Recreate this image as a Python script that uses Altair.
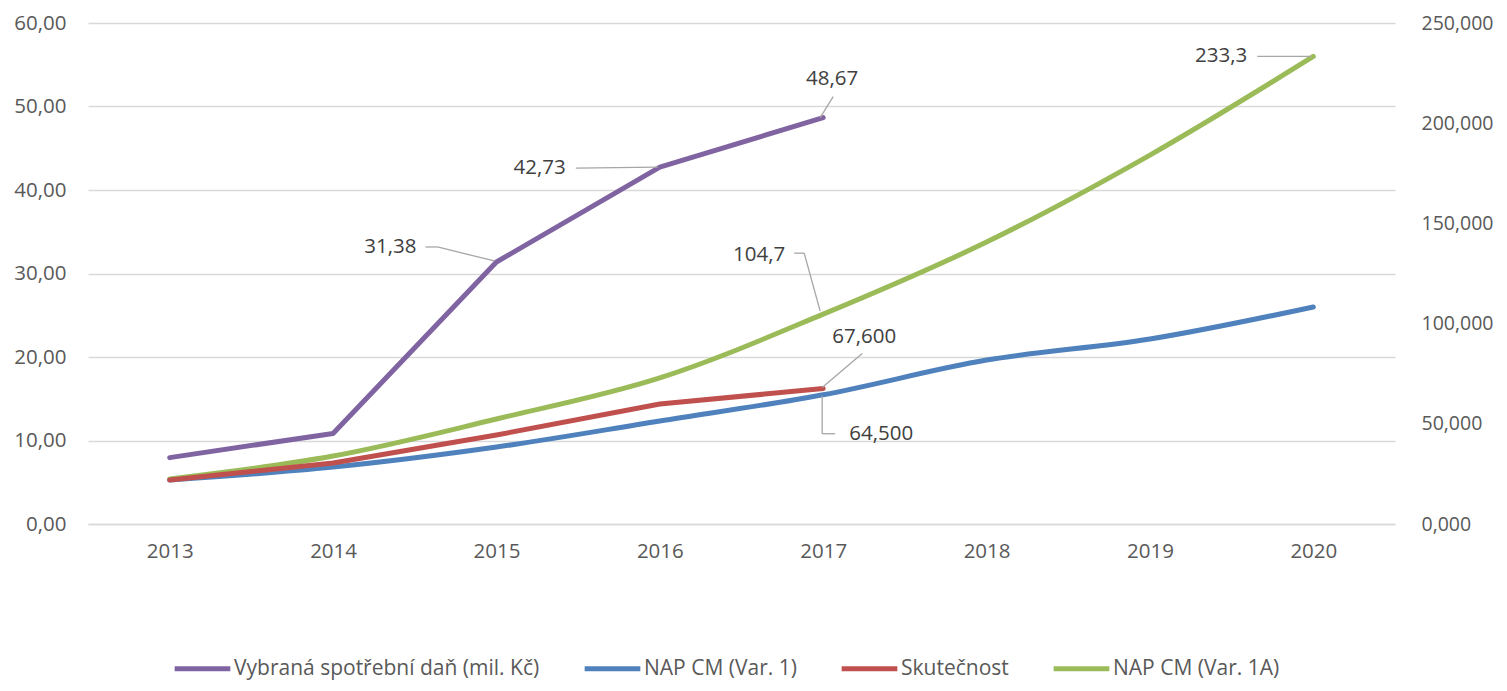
import altair as alt
import pandas as pd

years = [2013, 2014, 2015, 2016, 2017, 2018, 2019, 2020]

# Left axis series (mil. Kč)
dan_years = [2013, 2014, 2015, 2016, 2017]
dan_values = [7.95, 10.85, 31.38, 42.73, 48.67]

# Right axis series
nap1_values = [22.0, 28.4, 38.4, 51.4, 64.5, 81.8, 92.3, 108.3]
skut_years = [2013, 2014, 2015, 2016, 2017]
skut_values = [22.0, 30.4, 44.4, 59.9, 67.6]
nap1a_values = [22.5, 33.9, 52.4, 72.9, 104.7, 140.7, 184.1, 233.3]

series_names = ["Vybraná spotřební daň (mil. Kč)", "NAP CM (Var. 1)", "Skutečnost", "NAP CM (Var. 1A)"]
series_colors = ["#8064A2", "#4F81BD", "#C0504D", "#9BBB59"]

left_ticks = [0, 10, 20, 30, 40, 50, 60]
right_ticks = [0, 50, 100, 150, 200, 250]

FONT = "Open Sans"
LABEL_COLOR = "#595959"
DATA_LABEL_COLOR = "#404040"
LEADER_COLOR = "#A6A6A6"
AXIS_FS = 20.5
RIGHT_FS = 19.5
DATA_FS = 20.5
LEGEND_FS = 21

dan_df = pd.DataFrame({"year": dan_years, "value": dan_values, "series": series_names[0]})
right_df = pd.concat([
    pd.DataFrame({"year": years, "value": nap1_values, "series": series_names[1]}),
    pd.DataFrame({"year": skut_years, "value": skut_values, "series": series_names[2]}),
    pd.DataFrame({"year": years, "value": nap1a_values, "series": series_names[3]}),
])

x_enc = alt.X(
    "year:Q",
    scale=alt.Scale(domain=[2012.5, 2020.5], nice=False, zero=False),
    axis=alt.Axis(values=years, format="d", title=None, grid=False, ticks=False,
                  domain=True, domainColor="#D9D9D9", domainWidth=1.3,
                  labelFont=FONT, labelFontSize=AXIS_FS, labelColor=LABEL_COLOR, labelPadding=17),
)

color_enc = alt.Color(
    "series:N",
    scale=alt.Scale(domain=series_names, range=series_colors),
    legend=alt.Legend(
        title=None, orient="none", direction="horizontal", legendX=84, legendY=615,
        symbolType="stroke", symbolStrokeWidth=5, symbolSize=3100,
        labelFont=FONT, labelFontSize=LEGEND_FS, labelColor=LABEL_COLOR, labelLimit=600,
        labelOffset=1, columnPadding=34,
    ),
)

y_left = alt.Y(
    "value:Q",
    scale=alt.Scale(domain=[0, 60], nice=False),
    axis=alt.Axis(values=left_ticks, title=None, grid=True, gridColor="#D9D9D9", gridWidth=1.3,
                  ticks=False, domain=False, labelFont=FONT, labelFontSize=AXIS_FS, labelColor=LABEL_COLOR,
                  labelPadding=22, labelExpr="replace(format(datum.value, '.2f'), '.', ',')",
                  orient="left"),
)
y_right = alt.Y(
    "value:Q",
    scale=alt.Scale(domain=[0, 250], nice=False),
    axis=alt.Axis(values=right_ticks, title=None, grid=False, ticks=False, domain=False,
                  labelFont=FONT, labelFontSize=RIGHT_FS, labelColor=LABEL_COLOR, labelPadding=26,
                  labelExpr="replace(format(datum.value, '.3f'), '.', ',')", orient="right"),
)


def annotation(df_point, y_enc, text, dx, dy, segments, align="center"):
    """Text label plus leader segments, positioned from the data point with pixel offsets."""
    layers = [
        alt.Chart(df_point).mark_text(font=FONT, fontSize=DATA_FS, color=DATA_LABEL_COLOR,
                                      dx=dx, dy=dy, align=align, baseline="middle")
        .encode(x=x_enc, y=y_enc, text=alt.value(text))
    ]
    for (ox1, oy1, ox2, oy2) in segments:
        layers.append(
            alt.Chart(df_point).mark_rule(color=LEADER_COLOR, strokeWidth=1.3,
                                          xOffset=ox1, yOffset=oy1, x2Offset=ox2, y2Offset=oy2)
            .encode(x=x_enc, x2="year:Q", y=y_enc, y2="value:Q")
        )
    return layers


def pt(df, year, series):
    return df[(df["year"] == year) & (df["series"] == series)]


# Left side layer
dan_line = alt.Chart(dan_df).mark_line(strokeWidth=5, strokeCap="round", strokeJoin="round").encode(
    x=x_enc, y=y_left, color=color_enc
)
left_layers = [dan_line]
left_layers += annotation(pt(dan_df, 2015, series_names[0]), y_left, "31,38", -80, -15,
                          [(-71, -15, -59, -15), (-59, -15, -2, -1)], align="right")
left_layers += annotation(pt(dan_df, 2016, series_names[0]), y_left, "42,73", -94, 1,
                          [(-84, 1, -2, 0)], align="right")
left_layers += annotation(pt(dan_df, 2017, series_names[0]), y_left, "48,67", 9, -39,
                          [(10, -21, -3, 0)])
left = alt.layer(*left_layers)

# Right side layer
nap_df = right_df[right_df["series"] != series_names[2]]
skut_df = right_df[right_df["series"] == series_names[2]]
nap_lines = alt.Chart(nap_df).mark_line(strokeWidth=5, strokeCap="round", interpolate="catmull-rom").encode(
    x=x_enc, y=y_right, color=color_enc, detail="series:N"
)
skut_line = alt.Chart(skut_df).mark_line(strokeWidth=5, strokeCap="round", strokeJoin="round").encode(
    x=x_enc, y=y_right, color=color_enc
)
right_layers = [nap_lines, skut_line]
right_layers += annotation(pt(right_df, 2017, series_names[3]), y_right, "104,7", -38, -59,
                           [(-29, -61, -19, -61), (-19, -61, -3, -3)], align="right")
right_layers += annotation(pt(right_df, 2017, series_names[2]), y_right, "67,600", 9, -52,
                           [(39, -35, -1, -1)], align="left")
right_layers += annotation(pt(right_df, 2017, series_names[1]), y_right, "64,500", 26, 39,
                           [(-1, 1, -1, 39), (-1, 39, 12, 39)], align="left")
right_layers += annotation(pt(right_df, 2020, series_names[3]), y_right, "233,3", -66, 0,
                           [(-56, 0, -2, 0)], align="right")
right = alt.layer(*right_layers)

chart = (
    alt.layer(left, right)
    .resolve_scale(y="independent")
    .properties(
        width=1307, height=501,
        padding={"left": 80, "top": 15, "right": 104, "bottom": 159},
        autosize=alt.AutoSizeParams(type="none"),
        background="white",
    )
    .configure_view(stroke=None, strokeWidth=0)
    .configure_axisX(grid=False)
    .configure_axisY(domain=False)
)

chart.save("out.html", embed_options={"renderer": "svg", "actions": False})
